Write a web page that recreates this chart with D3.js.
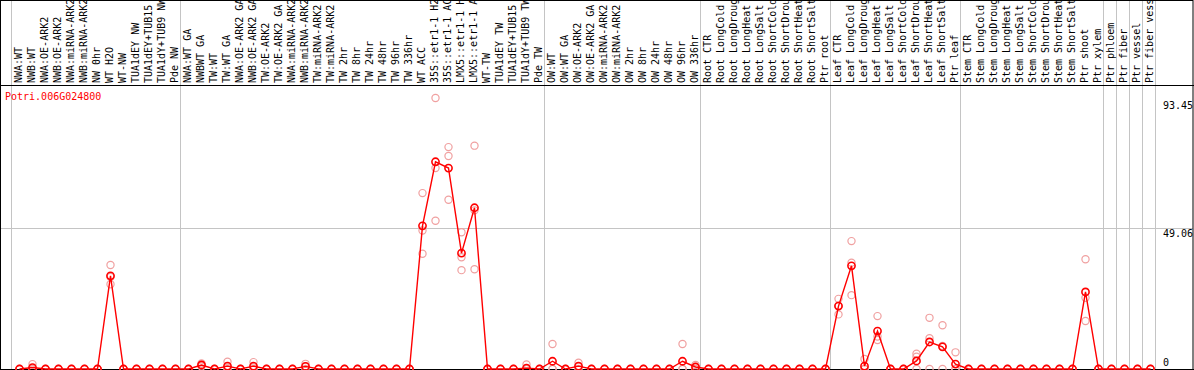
<!DOCTYPE html>
<html>
<head>
<meta charset="utf-8">
<script src="https://cdn.jsdelivr.net/npm/d3@7"></script>
<style>
  body { margin: 0; background: #fff; }
  text { font-family: "DejaVu Sans Mono", monospace; font-size: 10px; }
</style>
</head>
<body>
<svg id="chart"></svg>
<script>
// expression profile of one gene across sample columns
const geneId = "Potri.006G024800";

const samples = [
  "NWA:WT", "NWB:WT", "NWA:OE-ARK2", "NWB:OE-ARK2", "NWA:miRNA-ARK2", "NWB:miRNA-ARK2",
  "NW 0hr", "WT H2O", "WT-NW", "TUA1dEY NW", "TUA1dEY+TUB15 NW", "TUA1dY+TUB9 NW", "Pde NW",
  "NWA:WT GA", "NWBWT GA", "TW:WT", "TW:WT GA", "NWA:OE-ARK2 GA", "NWB:OE-ARK2 GA",
  "TW:OE-ARK2", "TW:OE-ARK2 GA", "NWA:miRNA-ARK2 GA", "NWB:miRNA-ARK2 GA", "TW:miRNA-ARK2",
  "TW:miRNA-ARK2 GA", "TW 2hr", "TW 8hr", "TW 24hr", "TW 48hr", "TW 96hr", "TW 336hr",
  "WT ACC", "35S::etr1-1 H2O", "35S::etr1-1 ACC", "LMX5::etr1-1 H2O", "LMX5::etr1-1 ACC",
  "WT-TW", "TUA1dEY TW", "TUA1dEY+TUB15 TW", "TUA1dY+TUB9 TW", "Pde TW",
  "OW:WT", "OW:WT GA", "OW:OE-ARK2", "OW:OE-ARK2 GA", "OW:miRNA-ARK2", "OW:miRNA-ARK2 GA",
  "OW 2hr", "OW 8hr", "OW 24hr", "OW 48hr", "OW 96hr", "OW 336hr",
  "Root CTR", "Root LongCold", "Root LongDrought", "Root LongHeat", "Root LongSalt",
  "Root ShortCold", "Root ShortDrought", "Root ShortHeat", "Root ShortSalt", "Ptr root",
  "Leaf CTR", "Leaf LongCold", "Leaf LongDrought", "Leaf LongHeat", "Leaf LongSalt",
  "Leaf ShortCold", "Leaf ShortDrought", "Leaf ShortHeat", "Leaf ShortSalt", "Ptr leaf",
  "Stem CTR", "Stem LongCold", "Stem LongDrought", "Stem LongHeat", "Stem LongSalt",
  "Stem ShortCold", "Stem ShortDrought", "Stem ShortHeat", "Stem ShortSalt", "Ptr shoot",
  "Ptr xylem", "Ptr phloem", "Ptr fiber", "Ptr vessel", "Ptr fiber vessel"
];

// mean value per sample (red line)
const means = [
  0, 0.5, 0, 0, 0, 0, 0, 32.4, 0, 0, 0, 0, 0,
  0, 1.4, 0, 1.0, 0, 1.0, 0, 0, 0, 0.9, 0, 0, 0, 0, 0, 0, 0, 0,
  49.8, 72.1, 69.9, 40.3, 56.1, 0, 0, 0, 0.3, 0,
  2.7, 0, 1.0, 0, 0, 0, 0, 0, 0, 0, 2.7, 0.7,
  0, 0, 0, 0, 0, 0, 0, 0, 0, 0,
  21.9, 35.9, 1.0, 13.2, 0, 0, 2.8, 9.4, 7.7, 1.7,
  0, 0, 0, 0, 0, 0, 0, 0, 0, 26.8,
  0, 0, 0, 0, 0
];

// individual replicates per sample (pink circles)
const replicates = [
  [0, 0, 0], [1.7, 0, 0], [0, 0, 0], [0, 0, 0], [0, 0, 0], [0, 0, 0], [0, 0, 0],
  [36.2, 32.0, 29.5], [0, 0, 0], [0, 0, 0], [0, 0, 0], [0, 0, 0], [0, 0, 0],
  [0, 0, 0], [1.9, 1.4, 0.9], [0, 0, 0], [2.5, 0.5, 0], [0, 0, 0], [2.4, 0.6, 0],
  [0, 0, 0], [0, 0, 0], [0, 0, 0], [1.8, 0.9, 0], [0, 0, 0], [0, 0, 0], [0, 0, 0],
  [0, 0, 0], [0, 0, 0], [0, 0, 0], [0, 0, 0], [0, 0, 0],
  [61.2, 48.2, 40.1], [94.3, 69.9, 51.6], [77.2, 74.1, 58.9], [47.6, 38.9, 34.4],
  [77.7, 55.2, 34.7], [0, 0, 0], [0, 0, 0], [0, 0, 0], [1.6, 0, 0], [0, 0, 0],
  [8.7, 0, 0], [0, 0, 0], [2.2, 0.8, 0], [0, 0, 0], [0, 0, 0], [0, 0, 0], [0, 0, 0],
  [0, 0, 0], [0, 0, 0], [0, 0, 0], [8.7, 0, 0], [1.4, 0.7, 0],
  [0, 0, 0], [0, 0, 0], [0, 0, 0], [0, 0, 0], [0, 0, 0], [0, 0, 0], [0, 0, 0],
  [0, 0, 0], [0, 0, 0], [0, 0, 0],
  [24.4, 22.0, 19.0], [44.5, 37.0, 25.7], [3.5, 0, 0], [18.4, 11.3, 10.1], [0, 0, 0],
  [0, 0, 0], [5.3, 4.3, 0], [17.8, 10.7, 0], [15.2, 8.0, 0], [5.8, 0, 0],
  [0, 0, 0], [0, 0, 0], [0, 0, 0], [0, 0, 0], [0, 0, 0], [0, 0, 0], [0, 0, 0],
  [0, 0, 0], [0, 0, 0], [38.2, 24.8, 16.7],
  [0, 0, 0], [0, 0, 0], [0, 0, 0], [0, 0, 0], [0, 0, 0]
];

// column indices where a gray group separator is drawn
const groupBreaks = [0, 13, 41, 53, 63, 73, 84, 85, 86, 87, 88];
const yTicks = [0, 49.06, 93.45];

const W = 1194, H = 370;
const headerH = 85;
const gridColor = "#c4c4c4";

const svg = d3.select("#chart").attr("width", W).attr("height", H);
svg.append("rect").attr("width", W).attr("height", H).attr("fill", "#fff");

const x = d3.scaleBand().domain(d3.range(samples.length)).range([13, 13 + 13 * samples.length]);
const cx = (i) => x(i) + x.bandwidth() / 2;
const y = d3.scaleLinear().domain([0, 93.45]).range([369, 100.4]);

// vertical group separators (run through the header too)
svg.selectAll(".sep")
  .data(groupBreaks)
  .enter().append("line")
  .attr("x1", (k) => x.range()[0] + k * x.step() - 1.5)
  .attr("x2", (k) => x.range()[0] + k * x.step() - 1.5)
  .attr("y1", 0).attr("y2", H)
  .attr("stroke", gridColor).attr("stroke-width", 1);

// horizontal gridline at middle tick
svg.append("line")
  .attr("x1", 1).attr("x2", W - 1)
  .attr("y1", Math.round(y(yTicks[1])) + 0.5).attr("y2", Math.round(y(yTicks[1])) + 0.5)
  .attr("stroke", gridColor);

// frame
svg.append("rect")
  .attr("x", 0.5).attr("y", 0.5).attr("width", W - 1.5).attr("height", H - 1)
  .attr("fill", "none").attr("stroke", "#000");
svg.append("line")
  .attr("x1", 0).attr("x2", W).attr("y1", headerH + 0.5).attr("y2", headerH + 0.5)
  .attr("stroke", "#000");
svg.append("line")
  .attr("x1", 0).attr("x2", W).attr("y1", 369.5).attr("y2", 369.5)
  .attr("stroke", "#000");

// rotated column labels
const header = svg.append("g");
header.selectAll("text")
  .data(samples)
  .enter().append("text")
  .attr("transform", (d, i) => `translate(${cx(i) + 2.5},${headerH - 2}) rotate(-90)`)
  .attr("fill", "#000")
  .text((d) => d);

// gene id
svg.append("text")
  .attr("x", 5).attr("y", 100)
  .attr("fill", "#ff0000")
  .text(geneId);

// y tick labels
svg.selectAll(".ytick")
  .data(yTicks)
  .enter().append("text")
  .attr("x", 1163)
  .attr("y", (d) => Math.min(y(d) + 9, 366))
  .attr("fill", "#000")
  .text((d) => d);

// replicate points
const repPts = [];
replicates.forEach((r, i) => r.forEach((v) => repPts.push({ i, v })));
svg.append("g").selectAll("circle")
  .data(repPts)
  .enter().append("circle")
  .attr("cx", (d) => cx(d.i))
  .attr("cy", (d) => y(d.v))
  .attr("r", 3.6)
  .attr("fill", "none")
  .attr("stroke", "#f0a0a0")
  .attr("stroke-width", 1.2);

// mean line
const line = d3.line().x((d, i) => cx(i)).y((d) => y(d));
svg.append("path")
  .datum(means)
  .attr("d", line)
  .attr("fill", "none")
  .attr("stroke", "#ff0000")
  .attr("stroke-width", 1.4);

svg.append("g").selectAll("circle")
  .data(means)
  .enter().append("circle")
  .attr("cx", (d, i) => cx(i))
  .attr("cy", (d) => y(d))
  .attr("r", 3.6)
  .attr("fill", "none")
  .attr("stroke", "#ff0000")
  .attr("stroke-width", 1.6);
</script>
</body>
</html>
